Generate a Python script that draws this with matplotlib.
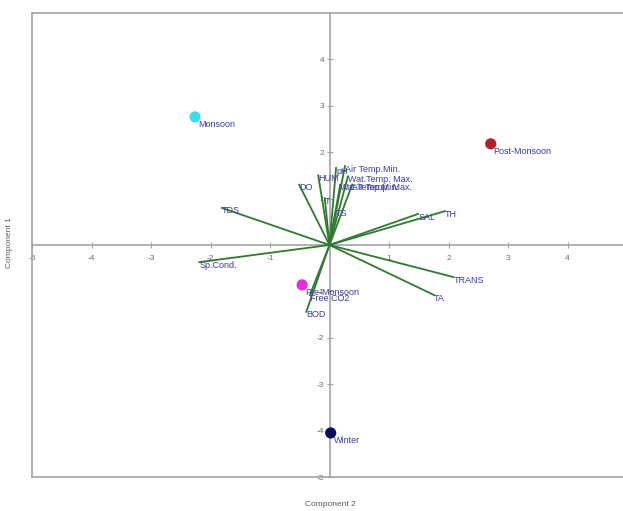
import matplotlib
matplotlib.use("Agg")
import matplotlib.pyplot as plt

plt.rcParams['font.family'] = ['Liberation Sans Narrow', 'Liberation Sans', 'DejaVu Sans']

# Sample scores (season groups)
seasons = ["Monsoon", "Post-Monsoon", "Pre-Monsoon", "Winter"]
season_x = [-2.26, 2.71, -0.46, 0.02]
season_y = [2.76, 2.18, -0.86, -4.05]
season_colors = ["#3fdcec", "#b5212a", "#e02ee0", "#0c0c5c"]

# Variable loadings (biplot vectors)
variables = ["TDS", "Sp.Cond.", "TH", "SAL", "TRANS", "TA", "BOD", "Free CO2",
             "DO", "HUM", "pH", "Air Temp.Min.", "Wat.Temp. Max.",
             "Wat.Temp.Min.", "Air Temp. Max.", "T", "TS"]
var_x = [-1.81, -2.19, 1.94, 1.49, 2.08, 1.76, -0.39, -0.33,
         -0.51, -0.19, 0.11, 0.26, 0.31, 0.18, 0.38, -0.08, 0.11]
var_y = [0.80, -0.37, 0.73, 0.67, -0.69, -1.08, -1.44, -1.08,
         1.30, 1.50, 1.66, 1.70, 1.48, 1.30, 1.30, 1.01, 0.75]

ticks = [-5, -4, -3, -2, -1, 1, 2, 3, 4]

W, H = 623, 511
fig = plt.figure(figsize=(W / 100, H / 100), dpi=100)
ax = fig.add_axes([32 / W, 1 - 477 / H, (627 - 32) / W, (477 - 13) / H])

frame_col = "#a3a3a3"
ax.set_xlim(-5, 5)
ax.set_ylim(-5, 5)

# axes through the origin
ax.spines['left'].set_position('zero')
ax.spines['bottom'].set_position('zero')
for s in ax.spines.values():
    s.set_color(frame_col)
    s.set_linewidth(1.2)
# outer frame on the left and bottom
ax.plot([-5, -5], [-5, 5], color=frame_col, lw=1.2, clip_on=False)
ax.plot([-5, 5], [-5, -5], color=frame_col, lw=1.2, clip_on=False)

ax.set_xticks(ticks)
ax.set_yticks(ticks)
ax.set_xticklabels([str(t) for t in ticks])
ax.set_yticklabels([str(t) for t in ticks])
ax.tick_params(direction='inout', length=4, width=0.8, color=frame_col,
               labelsize=6, labelcolor="#6a6a6a", pad=2)
ax.tick_params(axis='x', pad=5)

# loading vectors
for name, x, y in zip(variables, var_x, var_y):
    ax.plot([0, x], [0, y], color="#2f7a2f", lw=1.3, zorder=3)
    ax.annotate(name, (x, y), xytext=(0, 1), textcoords='offset points',
                ha='left', va='top', fontsize=6.5, color="#3a3aa0", zorder=4)

# season scores
for name, x, y, c in zip(seasons, season_x, season_y, season_colors):
    ax.scatter([x], [y], s=65, color=c, zorder=5, edgecolors='none')
    ax.annotate(name, (x, y), xytext=(2, -2), textcoords='offset points',
                ha='left', va='top', fontsize=6.5, color="#3a3aa0", zorder=6)

fig.text(330 / W, 1 - 504 / H, "Component 2", ha='center', va='center',
         fontsize=6, color="#5a5a5a")
fig.text(10 / W, 1 - 243 / H, "Component 1", ha='center', va='center',
         rotation=90, fontsize=6, color="#5a5a5a")

fig.savefig("out.png", dpi=100, facecolor="white")
